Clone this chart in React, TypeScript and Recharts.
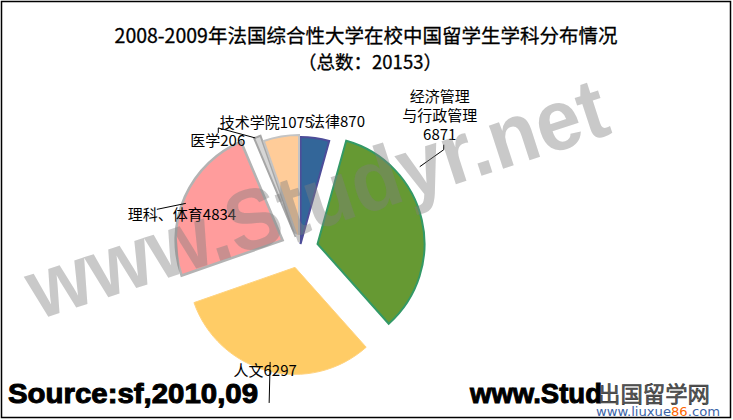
import { PieChart, Pie, Sector } from 'recharts';

// 2008-2009 Chinese students enrolled in French universities, by discipline (total 20153)
const subjects = ['法律', '经济管理与行政管理', '人文', '理科、体育', '医学', '技术学院'];
const students = [870, 6871, 6297, 4834, 206, 1075];

const fills = ['#336699', '#669933', '#ffcc66', '#ff9c9c', '#d6d6d6', '#ffcc99'];
const strokes = ['#4d4d99', '#339966', '#ffd37f', '#b3b3b3', '#a6a6a6', '#c4c4c4'];
const explode = [4, 18, 20, 19, 12, 6];

// label placement, relative to the outer point of each slice
const labelLayout = [
    { dx: -5, dy: -11, anchor: 'start', wrap: 0 },
    { dx: 18, dy: -118, anchor: 'middle', wrap: 4 },
    { dx: -3, dy: 5, anchor: 'middle', wrap: 0 },
    { dx: -57, dy: 23, anchor: 'start', wrap: 0 },
    { dx: -12, dy: 9, anchor: 'end', wrap: 0 },
    { dx: 32, dy: -9, anchor: 'end', wrap: 0 },
];
const leaders: number[][][] = [
    [],
    [[22, -75], [22, -70], [-2, -53]],
    [[2, -9], [1, 32]],
    [[-28, 12.5], [1, 6.5]],
    [[-39, -4], [-39, -9], [-2, 1]],
    [],
];

const data = subjects.map((name, i) => ({ name, value: students[i] }));
const RAD = Math.PI / 180;
const cjk = '"Noto Sans CJK SC", "Noto Sans", sans-serif';

function shift(i: number, midAngle: number) {
    return { x: explode[i] * Math.cos(-midAngle * RAD), y: explode[i] * Math.sin(-midAngle * RAD) };
}

function outerPoint(p: any) {
    const i = subjects.indexOf(p.name);
    const s = shift(i, p.midAngle);
    return {
        i,
        x: p.cx + s.x + p.outerRadius * Math.cos(-p.midAngle * RAD),
        y: p.cy + s.y + p.outerRadius * Math.sin(-p.midAngle * RAD),
    };
}

function Slice(props: any) {
    const i = subjects.indexOf(props.name ?? props.payload?.name);
    const s = shift(i, props.midAngle);
    return (
        <Sector
            {...props}
            cx={props.cx + s.x}
            cy={props.cy + s.y}
            fill={fills[i]}
            stroke={strokes[i]}
            strokeWidth={i === 2 ? 1 : i === 3 ? 2.5 : 2}
        />
    );
}

function SliceLabel(props: any) {
    const { i, x, y } = outerPoint(props);
    const l = labelLayout[i];
    const lines = l.wrap
        ? [props.name.slice(0, l.wrap), props.name.slice(l.wrap), String(props.value)]
        : [props.name + props.value];
    return (
        <text x={x + l.dx} y={y + l.dy} textAnchor={l.anchor as any} fontSize={15} fontFamily={cjk} fill="#000">
            {lines.map((t, k) => (
                <tspan key={k} x={x + l.dx} dy={k === 0 ? 0 : 19}>{t}</tspan>
            ))}
        </text>
    );
}

function Leader(props: any) {
    const { i, x, y } = outerPoint(props);
    const pts = leaders[i];
    if (!pts.length) return <g />;
    return (
        <polyline
            points={pts.map(([dx, dy]) => `${x + dx},${y + dy}`).join(' ')}
            fill="none"
            stroke="#000"
            strokeWidth={1}
        />
    );
}

export default function App() {
    return (
        <div style={{ position: 'absolute', left: 0, top: 0, width: 733, height: 420, background: '#fff' }}>
            <PieChart width={733} height={420} margin={{ top: 0, right: 0, bottom: 0, left: 0 }}>
                <Pie
                    data={data}
                    dataKey="value"
                    nameKey="name"
                    cx={300}
                    cy={248}
                    outerRadius={107}
                    startAngle={90}
                    endAngle={-270}
                    shape={Slice}
                    label={SliceLabel}
                    labelLine={Leader}
                    isAnimationActive={false}
                />
            </PieChart>
            <svg width={733} height={420} style={{ position: 'absolute', left: 0, top: 0, pointerEvents: 'none' }}>
                <rect x={1.5} y={1.5} width={729} height={416} fill="none" stroke="#000" strokeWidth={1.5} />
                <text x={366} y={43} textAnchor="middle" fontSize={19.5} fontFamily={cjk} fill="#000"
                    stroke="#000" strokeWidth={0.3}>
                    2008-2009年法国综合性大学在校中国留学生学科分布情况
                </text>
                <text x={370} y={69} textAnchor="middle" fontSize={18.5} fontFamily={cjk} fill="#000"
                    stroke="#000" strokeWidth={0.3}>
                    （总数：20153）
                </text>
                <text
                    transform="translate(38 320) rotate(-18)"
                    fontSize={86}
                    fontWeight="bold"
                    fontFamily="'Liberation Sans', Arial, sans-serif"
                    fill="#7f7f7f"
                    fillOpacity={0.42}
                    textLength={605}
                    lengthAdjust="spacingAndGlyphs"
                >
                    www.Studyr.net
                </text>
                <text x={8} y={403} fontSize={28} fontWeight="bold" fontFamily="'Liberation Sans', Arial, sans-serif"
                    fill="#000" stroke="#000" strokeWidth={1} textLength={250} lengthAdjust="spacingAndGlyphs">
                    Source:sf,2010,09
                </text>
                <text x={470} y={403} fontSize={28} fontWeight="bold" fontFamily="'Liberation Sans', Arial, sans-serif"
                    fill="#000" stroke="#000" strokeWidth={1} textLength={132} lengthAdjust="spacingAndGlyphs">
                    www.Stud
                </text>
                <text x={598} y={402} fontSize={22} fontFamily={cjk} fill="#5a5a5a" stroke="#333" strokeWidth={0.6}
                    textLength={112} lengthAdjust="spacingAndGlyphs">
                    出国留学网
                </text>
                <text x={596} y={416} fontSize={13} fontFamily="'DejaVu Sans', sans-serif" fill="#3b64a8"
                    textLength={124} lengthAdjust="spacingAndGlyphs">
                    www.liuxue<tspan fill="#ff6600">86</tspan>.com
                </text>
            </svg>
        </div>
    );
}
